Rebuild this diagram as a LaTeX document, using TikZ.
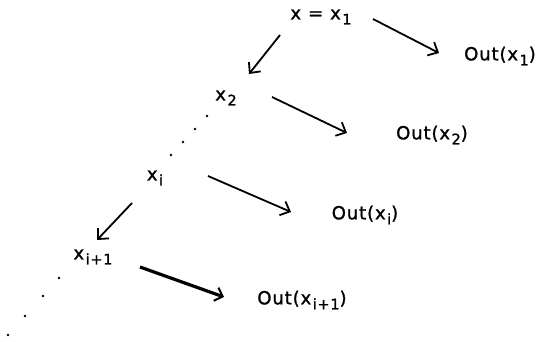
\documentclass[tikz,border=0pt]{standalone}
\usepackage{fontspec}
\newfontfamily\diagfont[LetterSpace=5,FakeBold=1.3]{DejaVu Sans}
\usetikzlibrary{arrows.meta}
\newcommand{\sbx}[1]{\hspace{1.5pt}\raisebox{-5pt}{\fontsize{14.5}{14.5}\selectfont #1}}
\tikzset{
  lbl/.style={inner sep=0pt, font=\diagfont\fontsize{18}{21}\selectfont},
  conn/.style={line width=1.8pt, -{Straight Barb[length=8pt,width=15pt,line width=1.8pt]}},
  thickconn/.style={line width=3.2pt, -{Straight Barb[length=7pt,width=14pt,line width=2pt]}},
  dotmark/.style={fill=black, circle, inner sep=0pt, minimum size=2.8pt}
}
\begin{document}
\begin{tikzpicture}[x=1pt,y=-1pt]
\useasboundingbox (0,0) rectangle (544,341);
% labels
\node[lbl] (x1) at (321,17) {x\hspace{7pt}=\hspace{7pt}x\sbx{1}};
\node[lbl] (o1) at (500,56) {Out(x\sbx{1})};
\node[lbl] (x2) at (226,98) {x\sbx{2}};
\node[lbl] (o2) at (432,135) {Out(x\sbx{2})};
\node[lbl] (xi) at (155,178) {x\sbx{i}};
\node[lbl] (oi) at (365,215) {Out(x\sbx{i})};
\node[lbl] (xi1) at (93,257) {x\sbx{i+1}};
\node[lbl] (oi1) at (302,300) {Out(x\sbx{i+1})};
% connector ends
\coordinate (a1s) at (373,19);  \coordinate (a1e) at (439,53);
\coordinate (b1s) at (280,35);  \coordinate (b1e) at (249,74);
\coordinate (a2s) at (272,97);  \coordinate (a2e) at (347,133);
\coordinate (a3s) at (208,176); \coordinate (a3e) at (291,212);
\coordinate (b2s) at (132,203); \coordinate (b2e) at (97,240);
\coordinate (a4s) at (140,267); \coordinate (a4e) at (224,297);
% connectors
\draw[conn] (a1s) -- (a1e);
\draw[conn] (b1s) -- (b1e);
\draw[conn] (a2s) -- (a2e);
\draw[conn] (a3s) -- (a3e);
\draw[conn] (b2s) -- (b2e);
\draw[thickconn] (a4s) -- (a4e);
% dots
\node[dotmark] (d1) at (207,116) {};
\node[dotmark] (d2) at (195,129) {};
\node[dotmark] (d3) at (183,142) {};
\node[dotmark] (d4) at (171,155) {};
\node[dotmark] (e1) at (59,278) {};
\node[dotmark] (e2) at (43,296) {};
\node[dotmark] (e3) at (25,316) {};
\node[dotmark] (e4) at (8,335) {};
\end{tikzpicture}
\end{document}
